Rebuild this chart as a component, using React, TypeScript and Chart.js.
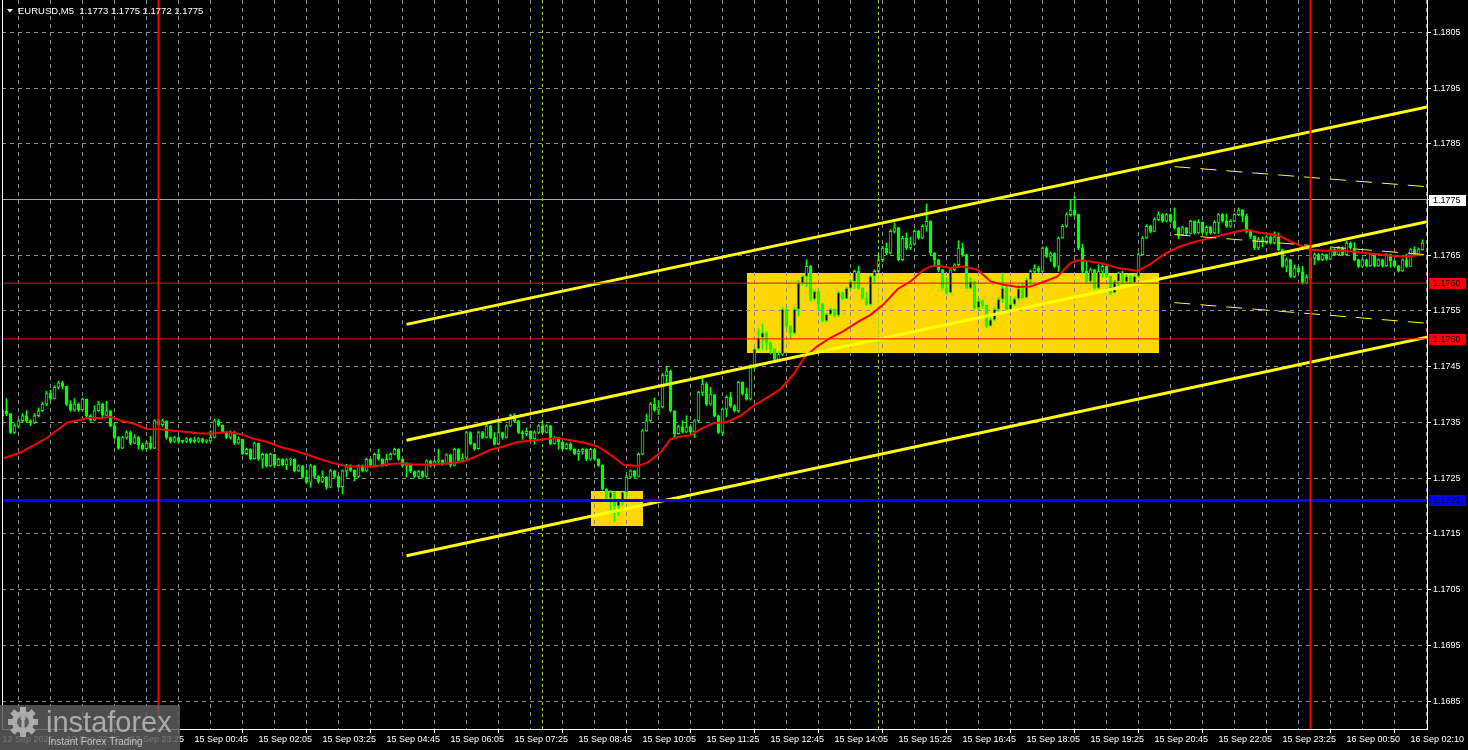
import React, { useEffect, useRef } from 'react';
import { Chart, registerables } from 'chart.js';

Chart.register(...registerables);

// ---------- DATA (EURUSD M5) ----------
const FIRST_OPEN = 1.17362;

const closes = [
  1.17371, 1.17366, 1.17332, 1.17344, 1.17353, 1.17362, 1.17353, 1.1735, 1.17362, 1.17371,
  1.17383, 1.17402, 1.17393, 1.17413, 1.17421, 1.17415, 1.17383, 1.17372, 1.17383, 1.17373,
  1.17392, 1.17362, 1.17354, 1.17371, 1.17383, 1.17363, 1.17371, 1.17344, 1.17323, 1.17304,
  1.17323, 1.17332, 1.17313, 1.17323, 1.1731, 1.17303, 1.17313, 1.17304, 1.17353, 1.17346,
  1.17353, 1.17323, 1.17316, 1.17323, 1.17316, 1.17316, 1.17321, 1.17316, 1.17316, 1.17321,
  1.17316, 1.17317, 1.17323, 1.17353, 1.17345, 1.17333, 1.17323, 1.17332, 1.17313, 1.1732,
  1.17294, 1.17302, 1.17285, 1.17313, 1.17284, 1.17293, 1.17272, 1.17293, 1.17273, 1.17284,
  1.17274, 1.17283, 1.17284, 1.17263, 1.17272, 1.17252, 1.17243, 1.17272, 1.17253, 1.17244,
  1.17252, 1.17234, 1.17263, 1.17253, 1.17235, 1.17263, 1.17272, 1.17264, 1.17253, 1.17272,
  1.17263, 1.17284, 1.17273, 1.17293, 1.17284, 1.17273, 1.17284, 1.17293, 1.17302, 1.17284,
  1.17273, 1.17275, 1.17262, 1.17253, 1.17262, 1.17253, 1.17281, 1.17273, 1.1728, 1.17282,
  1.17276, 1.17292, 1.17273, 1.17302, 1.17282, 1.17286, 1.17332, 1.17312, 1.17303, 1.17332,
  1.17323, 1.17344, 1.17323, 1.17311, 1.17332, 1.17323, 1.17344, 1.17363, 1.17353, 1.17332,
  1.1733, 1.17334, 1.17321, 1.17332, 1.17344, 1.17332, 1.17344, 1.17312, 1.17323, 1.17315,
  1.17303, 1.17311, 1.17302, 1.17294, 1.17298, 1.17302, 1.17284, 1.17302, 1.17284, 1.17273,
  1.17231, 1.17214, 1.17225, 1.172, 1.1721, 1.17225, 1.17252, 1.17263, 1.17253, 1.17293,
  1.17335, 1.17353, 1.17383, 1.17372, 1.17378, 1.17434, 1.17442, 1.17371, 1.1733, 1.17342,
  1.17333, 1.17342, 1.17333, 1.17353, 1.17404, 1.17419, 1.17383, 1.174, 1.17362, 1.17332,
  1.17374, 1.17395, 1.1738, 1.17371, 1.17422, 1.17401, 1.17392, 1.17448, 1.17482, 1.17502,
  1.17511, 1.17493, 1.17482, 1.17463, 1.17472, 1.17553, 1.17523, 1.1751, 1.17553, 1.176,
  1.17612, 1.1763, 1.17571, 1.17585, 1.17563, 1.17532, 1.17544, 1.17553, 1.17542, 1.17583,
  1.17572, 1.17591, 1.17603, 1.17621, 1.17591, 1.17573, 1.17562, 1.17612, 1.17621, 1.17642,
  1.17663, 1.17654, 1.17693, 1.17699, 1.17642, 1.17681, 1.17663, 1.1767, 1.17693, 1.17681,
  1.17702, 1.17711, 1.17654, 1.17642, 1.17624, 1.17591, 1.17583, 1.17624, 1.17633, 1.17663,
  1.17651, 1.17591, 1.17603, 1.17556, 1.17568, 1.1756, 1.17523, 1.17534, 1.17553, 1.17571,
  1.17591, 1.17553, 1.17562, 1.17572, 1.1759, 1.17574, 1.17606, 1.17621, 1.17627, 1.17621,
  1.17663, 1.17648, 1.17653, 1.1763, 1.17681, 1.17702, 1.17723, 1.17731, 1.17723, 1.17663,
  1.17621, 1.17603, 1.17624, 1.17591, 1.17621, 1.1763, 1.17612, 1.17583, 1.17603, 1.17618,
  1.17602, 1.17612, 1.17601, 1.17612, 1.17651, 1.17681, 1.17702, 1.17693, 1.17714, 1.17723,
  1.17711, 1.17723, 1.17711, 1.17699, 1.17687, 1.17699, 1.17689, 1.17711, 1.1769, 1.17709,
  1.17691, 1.177, 1.1769, 1.17709, 1.17723, 1.17711, 1.17702, 1.17711, 1.17723, 1.17731,
  1.1772, 1.17693, 1.17684, 1.17663, 1.17678, 1.17675, 1.17683, 1.17672, 1.17683, 1.1766,
  1.1763, 1.17642, 1.17612, 1.17627, 1.1762, 1.176, 1.1761, 1.17645, 1.17651, 1.17642,
  1.17651, 1.17643, 1.1766, 1.17651, 1.17663, 1.17651, 1.17672, 1.17663, 1.17642, 1.1763,
  1.17642, 1.17631, 1.17651, 1.17631, 1.17642, 1.17631, 1.17651, 1.1764, 1.17631, 1.17622,
  1.17642, 1.1763, 1.1766, 1.17651, 1.1766, 1.17672,
];

const highs = [
  1.17373, 1.17393, 1.17366, 1.17348, 1.17356, 1.17366, 1.17371, 1.17355, 1.17366, 1.17376,
  1.17386, 1.17406, 1.17408, 1.17416, 1.17424, 1.17424, 1.17415, 1.17389, 1.17393, 1.17385,
  1.17394, 1.17392, 1.17364, 1.1738, 1.17388, 1.17385, 1.17388, 1.17372, 1.1735, 1.17325,
  1.17325, 1.17335, 1.17335, 1.17328, 1.17325, 1.17313, 1.17316, 1.17325, 1.17355, 1.17356,
  1.17356, 1.17353, 1.17324, 1.17325, 1.17324, 1.17318, 1.17323, 1.17322, 1.17324, 1.17323,
  1.17322, 1.17319, 1.17335, 1.17356, 1.17356, 1.17346, 1.17334, 1.17335, 1.17334, 1.17324,
  1.1732, 1.17304, 1.17303, 1.17315, 1.17313, 1.17295, 1.17294, 1.17295, 1.17293, 1.17286,
  1.17285, 1.17285, 1.17286, 1.17285, 1.17274, 1.17273, 1.17265, 1.17275, 1.17273, 1.17255,
  1.17263, 1.17253, 1.17266, 1.17264, 1.17254, 1.17265, 1.17275, 1.17274, 1.17265, 1.17274,
  1.17274, 1.17286, 1.17285, 1.17295, 1.17302, 1.17285, 1.17293, 1.17295, 1.17304, 1.17303,
  1.17285, 1.17278, 1.17276, 1.17263, 1.17264, 1.17263, 1.17283, 1.17282, 1.17282, 1.17302,
  1.17283, 1.17294, 1.17293, 1.17304, 1.17303, 1.17294, 1.17334, 1.17333, 1.17313, 1.17334,
  1.17334, 1.17346, 1.17345, 1.17332, 1.1735, 1.17333, 1.17346, 1.17365, 1.17366, 1.17354,
  1.17335, 1.1734, 1.17335, 1.17335, 1.17346, 1.17353, 1.17346, 1.17345, 1.17325, 1.17322,
  1.17316, 1.17313, 1.17314, 1.17303, 1.17302, 1.17304, 1.17303, 1.17304, 1.17303, 1.17285,
  1.17274, 1.17231, 1.17228, 1.17226, 1.17213, 1.17227, 1.17255, 1.17265, 1.17264, 1.17295,
  1.17338, 1.17365, 1.17386, 1.17394, 1.17389, 1.17438, 1.17451, 1.17444, 1.1737, 1.17345,
  1.17353, 1.17362, 1.17344, 1.17355, 1.17406, 1.1743, 1.17422, 1.17413, 1.174, 1.17363,
  1.17376, 1.17398, 1.17404, 1.17382, 1.17424, 1.17423, 1.17412, 1.17454, 1.17484, 1.17518,
  1.17527, 1.17513, 1.17495, 1.17483, 1.17478, 1.17556, 1.17554, 1.17524, 1.17556, 1.17605,
  1.17614, 1.17642, 1.17632, 1.17587, 1.17586, 1.17564, 1.17546, 1.17555, 1.17554, 1.17585,
  1.17584, 1.17593, 1.17606, 1.17624, 1.17631, 1.17592, 1.17583, 1.17615, 1.17624, 1.1765,
  1.17666, 1.17672, 1.17696, 1.17708, 1.177, 1.17684, 1.1769, 1.17682, 1.17696, 1.17695,
  1.17705, 1.17742, 1.17712, 1.17655, 1.17643, 1.17625, 1.1761, 1.17626, 1.17635, 1.17676,
  1.17672, 1.17652, 1.1761, 1.17604, 1.17572, 1.1757, 1.17561, 1.17538, 1.17556, 1.17574,
  1.17618, 1.17596, 1.17572, 1.17575, 1.17597, 1.176, 1.17609, 1.17624, 1.17633, 1.1763,
  1.17665, 1.17665, 1.17656, 1.17655, 1.17683, 1.17705, 1.17726, 1.17749, 1.17756, 1.17724,
  1.1767, 1.17639, 1.17627, 1.17625, 1.17633, 1.17633, 1.1763, 1.17613, 1.17605, 1.1762,
  1.17622, 1.17615, 1.17614, 1.17615, 1.17654, 1.17684, 1.17705, 1.17704, 1.17717, 1.17728,
  1.17725, 1.17725, 1.17724, 1.17735, 1.177, 1.17702, 1.177, 1.17713, 1.17712, 1.17714,
  1.1771, 1.17703, 1.17702, 1.17712, 1.17725, 1.17725, 1.17724, 1.17714, 1.17725, 1.17735,
  1.17732, 1.17724, 1.17695, 1.17685, 1.17682, 1.17683, 1.17685, 1.17685, 1.17692, 1.1769,
  1.17661, 1.17645, 1.17643, 1.17633, 1.1763, 1.1763, 1.17615, 1.17663, 1.17654, 1.17653,
  1.17653, 1.17652, 1.17663, 1.17662, 1.17666, 1.17665, 1.17675, 1.17674, 1.17673, 1.17643,
  1.17644, 1.17643, 1.17653, 1.17652, 1.17644, 1.17643, 1.17653, 1.17652, 1.17641, 1.17632,
  1.17644, 1.17652, 1.17662, 1.17665, 1.17663, 1.17678,
];

const lows = [
  1.17344, 1.17362, 1.1733, 1.1733, 1.1734, 1.1735, 1.1735, 1.17344, 1.17348, 1.1736,
  1.1737, 1.1738, 1.1739, 1.17392, 1.1741, 1.1741, 1.1738, 1.1737, 1.1737, 1.1737,
  1.17372, 1.1736, 1.17352, 1.17353, 1.1737, 1.1736, 1.17362, 1.17342, 1.1732, 1.17302,
  1.17303, 1.1732, 1.1731, 1.17312, 1.17302, 1.173, 1.17302, 1.17302, 1.17303, 1.17344,
  1.17343, 1.1732, 1.17313, 1.17314, 1.17313, 1.17313, 1.17314, 1.17313, 1.17313, 1.17314,
  1.17313, 1.17313, 1.17315, 1.17322, 1.17343, 1.17331, 1.17321, 1.1732, 1.1731, 1.17311,
  1.17292, 1.17292, 1.17283, 1.17284, 1.17282, 1.17268, 1.1727, 1.17271, 1.1727, 1.17272,
  1.17272, 1.17265, 1.17273, 1.17261, 1.17262, 1.1725, 1.1724, 1.17234, 1.1725, 1.17241,
  1.17242, 1.1723, 1.17233, 1.1725, 1.17233, 1.17222, 1.17252, 1.17262, 1.17245, 1.17251,
  1.17261, 1.17262, 1.17271, 1.17272, 1.17282, 1.17271, 1.17272, 1.17283, 1.17292, 1.17282,
  1.17271, 1.17252, 1.1726, 1.17251, 1.17251, 1.17251, 1.17252, 1.1727, 1.17272, 1.17278,
  1.17273, 1.17275, 1.1727, 1.17272, 1.1728, 1.1728, 1.17285, 1.1731, 1.173, 1.17302,
  1.17321, 1.17322, 1.17321, 1.17309, 1.1731, 1.1732, 1.17322, 1.17343, 1.1735, 1.1733,
  1.1732, 1.17326, 1.17319, 1.17311, 1.1733, 1.1733, 1.17331, 1.1731, 1.17311, 1.17302,
  1.17301, 1.17302, 1.173, 1.17292, 1.17282, 1.17293, 1.17281, 1.17282, 1.17282, 1.17271,
  1.17229, 1.1721, 1.17186, 1.17172, 1.17183, 1.17202, 1.17216, 1.1725, 1.17251, 1.17252,
  1.17292, 1.17334, 1.17352, 1.1737, 1.17364, 1.17376, 1.17418, 1.17369, 1.17323, 1.17329,
  1.17331, 1.17332, 1.17331, 1.17323, 1.1735, 1.17398, 1.1738, 1.17381, 1.1736, 1.1733,
  1.17327, 1.1736, 1.17377, 1.17369, 1.17368, 1.17399, 1.1739, 1.1739, 1.17446, 1.1748,
  1.17481, 1.1748, 1.17473, 1.1746, 1.17461, 1.1747, 1.1752, 1.175, 1.17508, 1.17541,
  1.17596, 1.17594, 1.17568, 1.17569, 1.1755, 1.1753, 1.1753, 1.17542, 1.1754, 1.1754,
  1.1757, 1.17571, 1.17589, 1.1759, 1.17589, 1.17571, 1.1756, 1.1756, 1.176, 1.1762,
  1.17638, 1.17651, 1.17652, 1.1769, 1.1764, 1.1764, 1.1766, 1.1766, 1.17668, 1.17679,
  1.1768, 1.17693, 1.1765, 1.1763, 1.1762, 1.17589, 1.1758, 1.17582, 1.17622, 1.1763,
  1.17648, 1.1759, 1.1759, 1.17553, 1.17552, 1.17555, 1.1752, 1.17522, 1.17532, 1.1755,
  1.17565, 1.1755, 1.1755, 1.1756, 1.1757, 1.17572, 1.17573, 1.17597, 1.17618, 1.17619,
  1.1762, 1.17646, 1.17639, 1.17628, 1.17621, 1.1768, 1.177, 1.1772, 1.1772, 1.1766,
  1.17618, 1.176, 1.176, 1.17589, 1.1759, 1.1761, 1.1761, 1.1758, 1.17582, 1.17595,
  1.17599, 1.176, 1.17599, 1.176, 1.1761, 1.1765, 1.1768, 1.1769, 1.17692, 1.17712,
  1.17709, 1.1771, 1.17709, 1.17697, 1.1768, 1.17686, 1.17687, 1.17688, 1.17688, 1.17689,
  1.17689, 1.17686, 1.17688, 1.17689, 1.17689, 1.17709, 1.177, 1.177, 1.1771, 1.17721,
  1.1771, 1.1769, 1.1768, 1.1766, 1.1766, 1.17665, 1.1767, 1.1767, 1.1767, 1.17658,
  1.17628, 1.1762, 1.1761, 1.1761, 1.17618, 1.17598, 1.17599, 1.17606, 1.17633, 1.1764,
  1.1764, 1.17641, 1.17642, 1.17649, 1.1765, 1.17649, 1.1765, 1.17661, 1.1764, 1.17628,
  1.17629, 1.17629, 1.1763, 1.17629, 1.1763, 1.17629, 1.1763, 1.17628, 1.17629, 1.1762,
  1.17621, 1.17628, 1.1763, 1.17649, 1.1765, 1.17659,
];

// Moving average (red line) read at bar positions
const maIndex = [
  0.25, 4.5, 7.75, 11.25, 14.5, 16.25, 19.5, 21.25, 24.5, 27, 29.5, 32.75, 36.25, 39.5, 42.75, 46.25,
  49.5, 52.75, 56.25, 59.5, 62.75, 66.25, 69.5, 72.75, 76.25, 79.5, 82.75, 86.25, 89.5, 92.75, 96.25,
  99.5, 102, 107, 112, 115.25, 118.75, 122, 125.25, 128.75, 132, 135.25, 138.75, 142, 145.25, 148.75,
  152, 155.25, 158.75, 161.25, 164.5, 167, 169.5, 172, 174.5, 177.75, 181.25, 184.5, 187.75, 191.25,
  194.5, 197.75, 200.25, 203.75, 207, 210.25, 213.75, 217, 220.25, 223.75, 227, 230.25, 232, 233.75,
  237, 240.25, 243.75, 247, 250.25, 253.75, 257, 260.25, 263.75, 267, 268.75, 272, 275.25, 278.75,
  282, 283.75, 287, 290.25, 293.75, 297, 300.25, 303.75, 307, 310.25, 312, 313.75, 317, 319.5, 322,
  325.25, 327, 330.25, 333.75, 337, 340.25, 343.75, 347, 350.25, 353.75, 355.25,
];
const maValues = [
  1.17286, 1.17296, 1.17309, 1.17323, 1.17341, 1.1735, 1.17355, 1.17358, 1.17358, 1.1736, 1.17353,
  1.17348, 1.17338, 1.17338, 1.17335, 1.17333, 1.1733, 1.1733, 1.17333, 1.17329, 1.17321, 1.17315,
  1.17306, 1.173, 1.17292, 1.17284, 1.17277, 1.17271, 1.17271, 1.17271, 1.17275, 1.17277, 1.17275,
  1.17274, 1.17277, 1.1728, 1.1729, 1.17301, 1.17307, 1.17315, 1.17317, 1.1732, 1.17322, 1.17318,
  1.17314, 1.17307, 1.17292, 1.17274, 1.17272, 1.17278, 1.17296, 1.1732, 1.17325, 1.17327, 1.17338,
  1.17349, 1.17351, 1.17362, 1.1738, 1.17395, 1.1741, 1.17436, 1.17465, 1.17487, 1.17502, 1.17514,
  1.1753, 1.17543, 1.17562, 1.17589, 1.17603, 1.17624, 1.1763, 1.17631, 1.17627, 1.1763, 1.17624,
  1.17603, 1.17597, 1.17593, 1.17594, 1.17602, 1.17612, 1.17636, 1.17641, 1.17639, 1.17635, 1.17627,
  1.17624, 1.17622, 1.17634, 1.17651, 1.17664, 1.17672, 1.17678, 1.17684, 1.1769, 1.17695, 1.17695,
  1.17691, 1.17688, 1.17684, 1.17675, 1.17665, 1.1766, 1.17658, 1.17658, 1.17657, 1.17654, 1.17652,
  1.17649, 1.17648, 1.1765, 1.17651,
];

const xTickLabels = [
  '12 Sep 2025', '12 Sep 22:05', '12 Sep 23:25', '15 Sep 00:45', '15 Sep 02:05', '15 Sep 03:25',
  '15 Sep 04:45', '15 Sep 06:05', '15 Sep 07:25', '15 Sep 08:45', '15 Sep 10:05', '15 Sep 11:25',
  '15 Sep 12:45', '15 Sep 14:05', '15 Sep 15:25', '15 Sep 16:45', '15 Sep 18:05', '15 Sep 19:25',
  '15 Sep 20:45', '15 Sep 22:05', '15 Sep 23:25', '16 Sep 00:50', '16 Sep 02:10',
];
const yTickValues = [
  1.1685, 1.1695, 1.1705, 1.1715, 1.1725, 1.1735, 1.1745, 1.1755, 1.1765, 1.1775, 1.1785, 1.1795, 1.1805,
];

// Chart objects (bar index / price)
const channelStart = 101;
const channelEnd = 356.125;
const channelUpper = [1.17526, 1.17916];
const channelMiddle = [1.17318, 1.1771];
const channelLower = [1.17111, 1.17503];
const dashedStart = 293;
const dashedTop = [1.17809, 1.17773];
const dashedMiddle = [1.17687, 1.17651];
const dashedBottom = [1.17565, 1.17528];
const resistanceLevels = [1.175, 1.176];
const supportLevel = 1.1721;
const bidPrice = 1.1775;
const daySeparators = [39, 327];
const sessionLines = [135, 219];
const zoneStart = [147, 186];
const zoneEnd = [160, 289];
const zoneTop = [1.17227, 1.17619];
const zoneBottom = [1.17164, 1.17476];
const priceTags = [
  { value: 1.1775, bg: '#ffffff' },
  { value: 1.176, bg: '#ff0000' },
  { value: 1.175, bg: '#ff0000' },
  { value: 1.1721, bg: '#0000ff' },
];
const titleText = 'EURUSD,M5  1.1773 1.1775 1.1772 1.1775';

const X_MIN = -0.125;
const X_MAX = 356.125;
const Y_MIN = 1.168;
const Y_MAX = 1.18108;

const FONT = "'Liberation Sans', Arial, sans-serif";
const GRID = '#8c8c8c';

const seg = (x0: number, y0: number, x1: number, y1: number) => [
  { x: x0, y: y0 },
  { x: x1, y: y1 },
];

const mtPlugin = {
  id: 'mtDecor',
  beforeDraw(chart: any) {
    const { ctx } = chart;
    const x = chart.scales.x;
    const y = chart.scales.y;
    ctx.save();
    ctx.fillStyle = '#000000';
    ctx.fillRect(0, 0, chart.width, chart.height);
    ctx.fillStyle = '#ffd700';
    for (let k = 0; k < zoneStart.length; k++) {
      const x0 = x.getPixelForValue(zoneStart[k]);
      const x1 = x.getPixelForValue(zoneEnd[k]);
      const y0 = y.getPixelForValue(zoneTop[k]);
      const y1 = y.getPixelForValue(zoneBottom[k]);
      ctx.fillRect(Math.round(x0), Math.round(y0), Math.round(x1 - x0), Math.round(y1 - y0));
    }
    ctx.restore();
  },
  afterDraw(chart: any) {
    const { ctx, chartArea } = chart;
    const y = chart.scales.y;
    ctx.save();
    // left frame
    ctx.strokeStyle = '#ffffff';
    ctx.lineWidth = 1;
    ctx.beginPath();
    ctx.moveTo(chartArea.left + 0.5, 0);
    ctx.lineTo(chartArea.left + 0.5, chartArea.bottom);
    ctx.stroke();

    // price tags
    ctx.font = `9px ${FONT}`;
    ctx.textBaseline = 'middle';
    ctx.textAlign = 'left';
    for (const t of priceTags) {
      const py = Math.round(y.getPixelForValue(t.value));
      ctx.fillStyle = t.bg;
      ctx.fillRect(chartArea.right + 2, py - 5, 37, 11);
      ctx.fillStyle = '#000000';
      ctx.fillText(t.value.toFixed(4), chartArea.right + 6, py + 0.5);
    }

    // title
    ctx.fillStyle = '#ffffff';
    ctx.beginPath();
    ctx.moveTo(7, 9);
    ctx.lineTo(13, 9);
    ctx.lineTo(10, 12.5);
    ctx.closePath();
    ctx.fill();
    ctx.font = `9.5px ${FONT}`;
    ctx.fillText(titleText, 18, 11);

    // watermark
    ctx.fillStyle = 'rgba(92,92,92,0.85)';
    ctx.fillRect(0, 705, 180, 45);
    ctx.fillStyle = 'rgba(175,175,175,0.95)';
    const cx = 23;
    const cy = 722;
    ctx.beginPath();
    ctx.arc(cx, cy, 11, 0, Math.PI * 2);
    ctx.fill();
    for (let k = 0; k < 8; k++) {
      ctx.save();
      ctx.translate(cx, cy);
      ctx.rotate((k * Math.PI) / 4);
      ctx.fillRect(-3, -15, 6, 6);
      ctx.restore();
    }
    ctx.fillStyle = 'rgba(92,92,92,1)';
    ctx.beginPath();
    ctx.arc(cx, cy, 6, 0, Math.PI * 2);
    ctx.fill();
    ctx.fillStyle = 'rgba(175,175,175,0.95)';
    ctx.fillRect(cx - 1.5, cy - 3, 3, 12);
    ctx.beginPath();
    ctx.arc(cx, cy - 4, 2.5, 0, Math.PI * 2);
    ctx.fill();
    ctx.textBaseline = 'alphabetic';
    ctx.font = `29px ${FONT}`;
    ctx.fillText('instaforex', 46, 732);
    ctx.font = `10px ${FONT}`;
    ctx.fillStyle = 'rgba(200,200,200,0.95)';
    ctx.fillText('Instant Forex Trading', 48, 745);
    ctx.restore();
  },
};

export default function App() {
  const ref = useRef<HTMLCanvasElement | null>(null);

  useEffect(() => {
    const canvas = ref.current;
    if (!canvas) return;
    document.body.style.margin = '0';
    document.body.style.background = '#000';

    const idx = closes.map((_, i) => i);
    const opens = closes.map((c, i) => (i === 0 ? FIRST_OPEN : closes[i - 1]));
    const wickData = idx.map((i) => ({
      x: i,
      y: [Math.min(lows[i], opens[i], closes[i]), Math.max(highs[i], opens[i], closes[i])],
    }));
    const bodyData = idx.map((i) => ({ x: i, y: [opens[i], closes[i]] }));
    const bodyFill = idx.map((i) => (closes[i] > opens[i] ? '#000000' : '#00ff00'));
    const maData = maIndex.map((v, k) => ({ x: v, y: maValues[k] }));

    const line = (data: any, color: string, width: number, order: number, dash: number[] = []) => ({
      type: 'line',
      data,
      borderColor: color,
      borderWidth: width,
      borderDash: dash,
      pointRadius: 0,
      fill: false,
      tension: 0,
      order,
    });

    const datasets: any[] = [
      {
        type: 'bar',
        data: wickData,
        backgroundColor: '#00ff00',
        borderWidth: 0,
        grouped: false,
        barPercentage: 1,
        categoryPercentage: 1,
        maxBarThickness: 1,
        order: 20,
      },
      {
        type: 'bar',
        data: bodyData,
        backgroundColor: bodyFill,
        borderColor: '#00ff00',
        borderWidth: 1,
        borderSkipped: false,
        grouped: false,
        barPercentage: 1,
        categoryPercentage: 1,
        maxBarThickness: 3,
        minBarLength: 1,
        order: 19,
      },
      line(seg(X_MIN, bidPrice, X_MAX, bidPrice), '#a4a4b4', 1, 18),
      ...sessionLines.map((v) => line(seg(v, Y_MIN, v, Y_MAX), '#9acd32', 1, 17, [3, 3])),
      line(maData, '#ff0000', 2, 6),
      line(seg(channelStart, channelUpper[0], channelEnd, channelUpper[1]), '#ffff00', 3, 5),
      line(seg(channelStart, channelMiddle[0], channelEnd, channelMiddle[1]), '#ffff00', 3, 5),
      line(seg(channelStart, channelLower[0], channelEnd, channelLower[1]), '#ffff00', 3, 5),
      line(seg(dashedStart, dashedTop[0], channelEnd, dashedTop[1]), '#ffff00', 1, 5, [16, 10]),
      line(seg(dashedStart, dashedMiddle[0], channelEnd, dashedMiddle[1]), '#ffff00', 1, 5, [16, 10]),
      line(seg(dashedStart, dashedBottom[0], channelEnd, dashedBottom[1]), '#ffff00', 1, 5, [16, 10]),
      ...resistanceLevels.map((v) => line(seg(X_MIN, v, X_MAX, v), '#ff0000', 1, 3)),
      line(seg(X_MIN, supportLevel, X_MAX, supportLevel), '#0000ff', 3, 2),
      ...daySeparators.map((v) => line(seg(v, Y_MIN, v, Y_MAX), '#ff0000', 2, 1)),
    ];

    const chart = new Chart(canvas, {
      type: 'bar',
      data: { datasets },
      plugins: [mtPlugin],
      options: {
        animation: false,
        responsive: false,
        devicePixelRatio: 1,
        events: [],
        layout: { padding: { left: 2, top: 0, right: 0, bottom: 0 } },
        plugins: { legend: { display: false }, tooltip: { enabled: false }, title: { display: false } },
        scales: {
          x: {
            type: 'linear',
            min: X_MIN,
            max: X_MAX,
            offset: false,
            afterBuildTicks: (s: any) => {
              const t: any[] = [];
              for (let v = 0; v <= (xTickLabels.length - 1) * 16; v += 8) t.push({ value: v });
              s.ticks = t;
            },
            afterFit: (s: any) => {
              s.height = 21;
              s.paddingLeft = 0;
              s.paddingRight = 0;
            },
            ticks: {
              autoSkip: false,
              maxRotation: 0,
              minRotation: 0,
              align: 'start',
              color: '#ffffff',
              padding: 1,
              font: { family: FONT, size: 9 },
              callback: (v: any) => (v % 16 === 0 ? xTickLabels[v / 16] : ''),
            },
            grid: {
              color: GRID,
              lineWidth: 1,
              tickLength: 4,
              tickColor: (c: any) => (c.tick && c.tick.value % 16 === 0 ? '#ffffff' : 'rgba(0,0,0,0)'),
              tickBorderDash: [],
            },
            border: { display: true, color: '#ffffff', width: 1, dash: [4, 4] },
          },
          y: {
            position: 'right',
            min: Y_MIN,
            max: Y_MAX,
            afterBuildTicks: (s: any) => {
              s.ticks = yTickValues.map((v) => ({ value: v }));
            },
            afterFit: (s: any) => {
              s.width = 41;
              s.paddingTop = 0;
              s.paddingBottom = 0;
            },
            ticks: {
              color: '#ffffff',
              padding: 2,
              font: { family: FONT, size: 9 },
              callback: (v: any) => Number(v).toFixed(4),
            },
            grid: {
              color: GRID,
              lineWidth: 1,
              tickLength: 4,
              tickColor: '#ffffff',
              tickBorderDash: [],
            },
            border: { display: true, color: '#ffffff', width: 1, dash: [4, 4] },
          },
        },
      } as any,
    } as any);

    return () => chart.destroy();
  }, []);

  return (
    <div style={{ position: 'fixed', left: 0, top: 0, width: 1468, height: 750, background: '#000' }}>
      <canvas ref={ref} width={1468} height={750} style={{ display: 'block', width: 1468, height: 750 }} />
    </div>
  );
}
